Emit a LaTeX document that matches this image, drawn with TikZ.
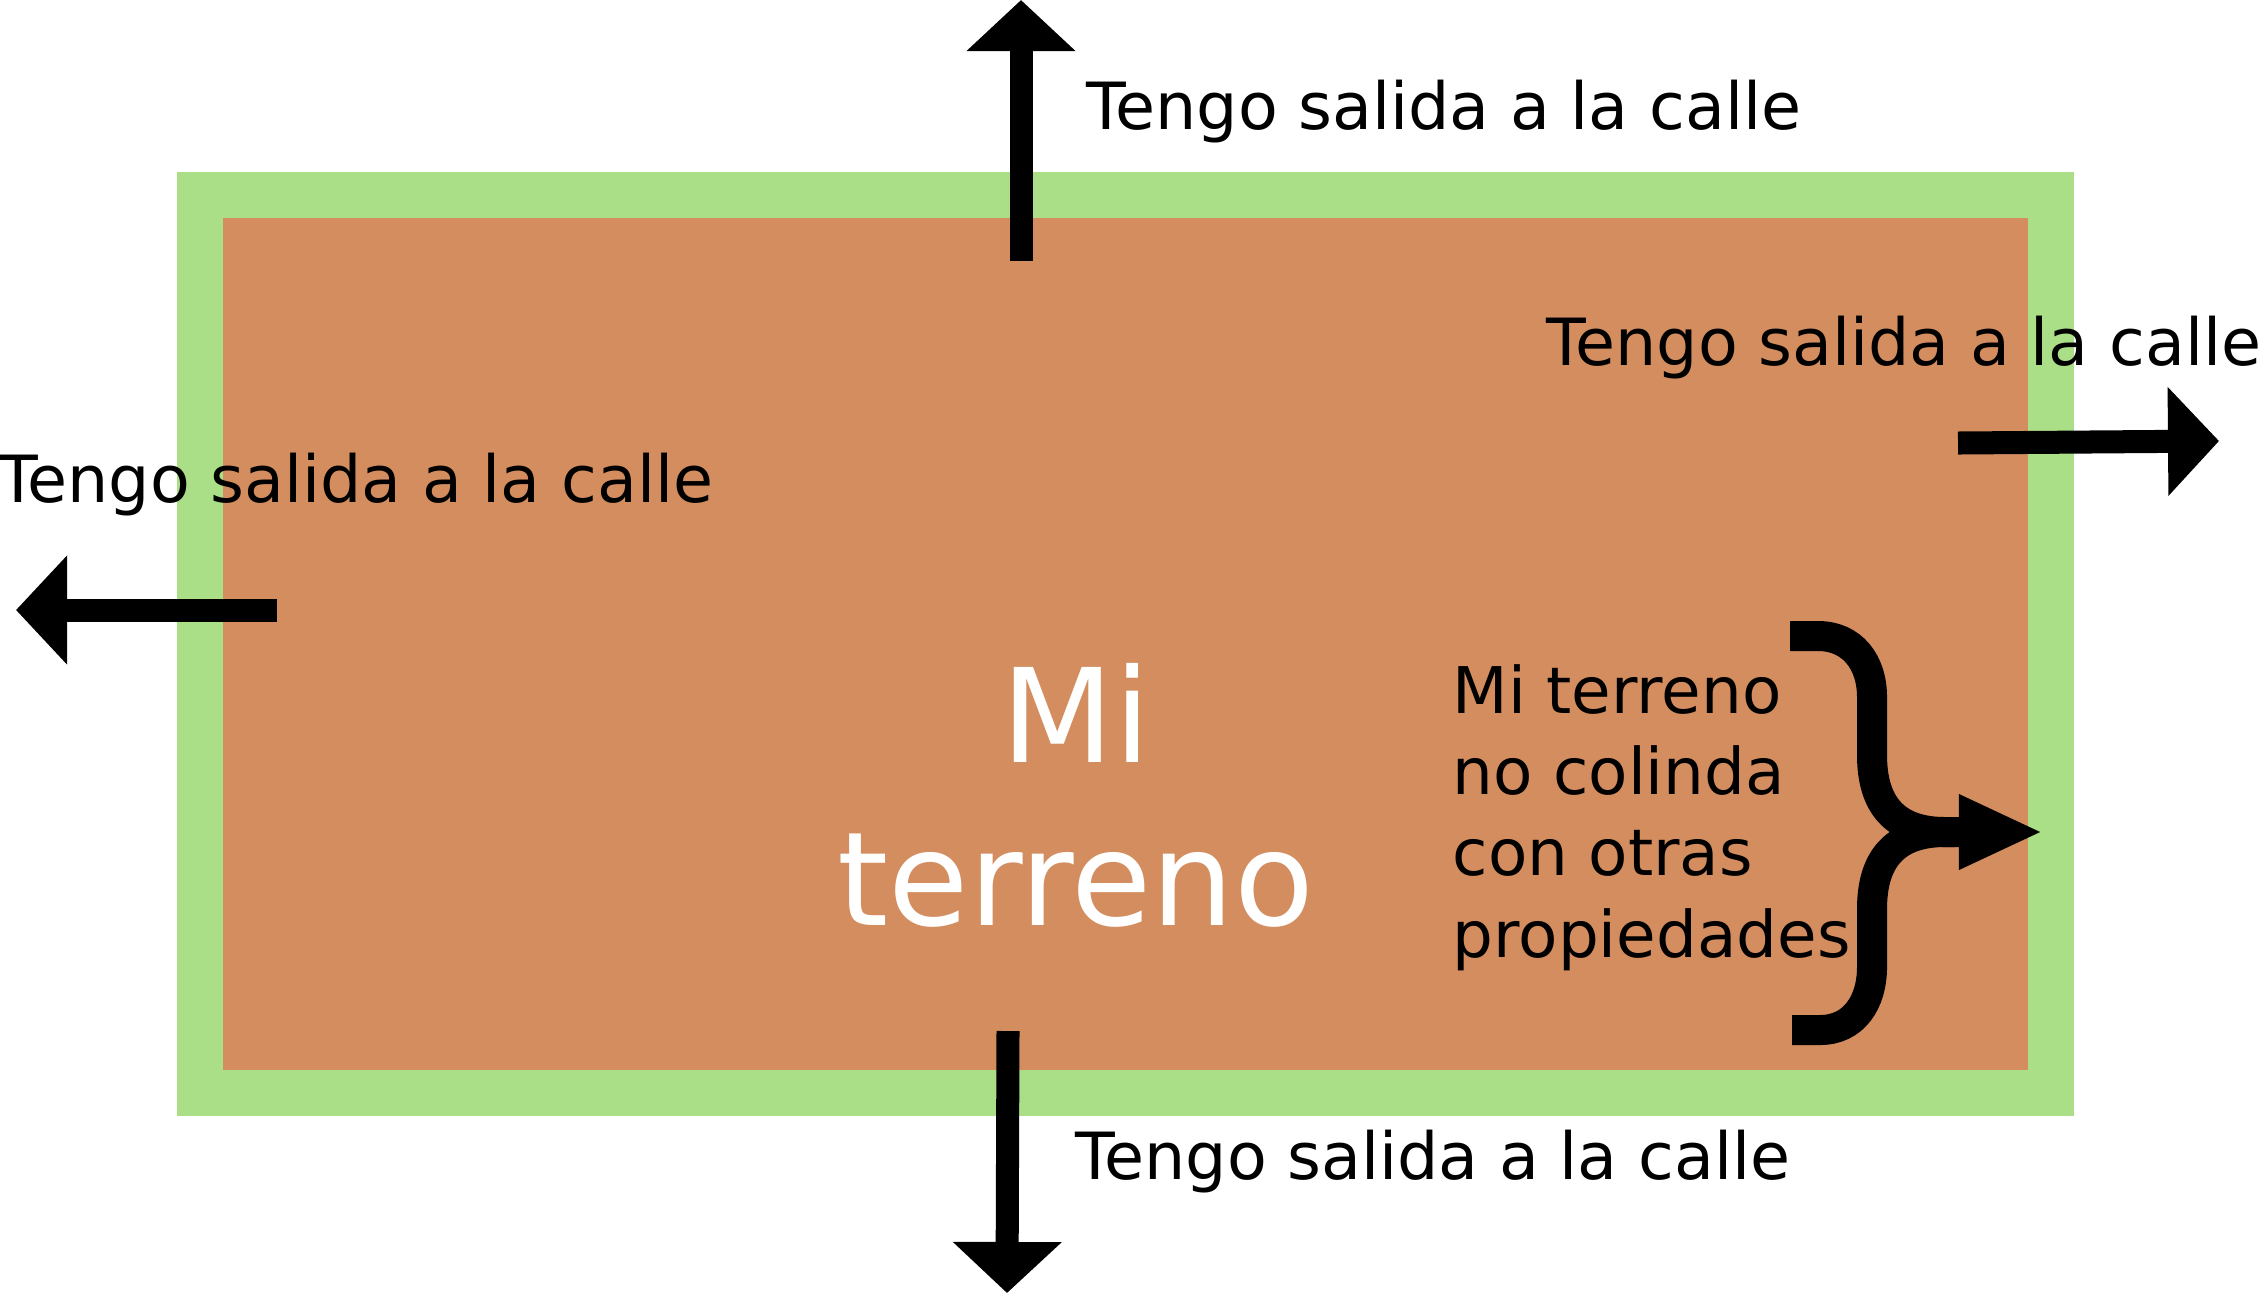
\documentclass[tikz,border=0pt]{standalone}
\usepackage{fontspec}
\setmainfont{DejaVu Sans}
\usetikzlibrary{arrows.meta}
\usepackage{xcolor}
\definecolor{lotgreen}{HTML}{AADE87}
\definecolor{lotorange}{HTML}{D38D5F}

\begin{document}
\begin{tikzpicture}[
        x=0.01cm, y=-0.01cm,
        lbl/.style={anchor=base west, inner sep=0pt, font=\fontsize{18.5}{23.05}\selectfont},
        bigtext/.style={inner sep=0pt, text=white, align=center, font=\fontsize{37.1}{46.1}\selectfont},
        exitarrow/.style={-{Triangle[length=5.1mm, width=10.6mm]}, line width=2.3mm, draw=black},
        brace/.style={line width=3mm, draw=black}
    ]
    \useasboundingbox (0,0) rectangle (2258,1293);

    % The Lot
    \fill[lotgreen] (177,172) rectangle (2074,1116);
    \fill[lotorange] (223,218) rectangle (2028,1070);

    % The Labels
    \node (lblTop) [lbl] at (1086,129) {Tengo salida a la calle};
    \node (lblRight) [lbl] at (1546,365) {Tengo salida a la calle};
    \node (lblLeft) [lbl] at (-2,502) {Tengo salida a la calle};
    \node (lblBottom) [lbl] at (1075,1179) {Tengo salida a la calle};
    \node (lot) [bigtext, anchor=base] at (1076,925) {Mi\\terreno};
    \node (noBorder) [lbl, align=left, font=\fontsize{18.3}{23.05}\selectfont] at (1452,957) {Mi terreno\\no colinda\\con otras\\propiedades};

    % The Exits
    \coordinate (topIn) at (1021,261);
    \coordinate (topOut) at (1021,0);
    \coordinate (rightIn) at (1958,443);
    \coordinate (rightOut) at (2219,441);
    \coordinate (leftIn) at (277,610);
    \coordinate (leftOut) at (16,610);
    \coordinate (bottomIn) at (1008,1031);
    \coordinate (bottomOut) at (1007,1293);
    \draw [exitarrow] (topIn) -- (topOut);
    \draw [exitarrow] (rightIn) -- (rightOut);
    \draw [exitarrow] (leftIn) -- (leftOut);
    \draw [exitarrow] (bottomIn) -- (bottomOut);

    % The Brace
    \coordinate (braceTop) at (1790,636);
    \coordinate (braceBottom) at (1792,1030);
    \coordinate (braceMid) at (1945,832);
    \coordinate (braceTip) at (2043,832);
    \draw [brace, -{Triangle[length=8.4mm, width=6.9mm]}] (braceTop) -- ++(28,0)
        .. controls +(34,0) and +(0,-35) .. (1872,697) -- (1872,755)
        .. controls +(0,50) and +(-50,0) .. (braceMid) -- (braceTip);
    \draw [brace] (braceBottom) -- ++(28,0)
        .. controls +(34,0) and +(0,35) .. (1872,967) -- (1872,909)
        .. controls +(0,-50) and +(-50,0) .. (braceMid) -- ++(10,0);

\end{tikzpicture}
\end{document}
